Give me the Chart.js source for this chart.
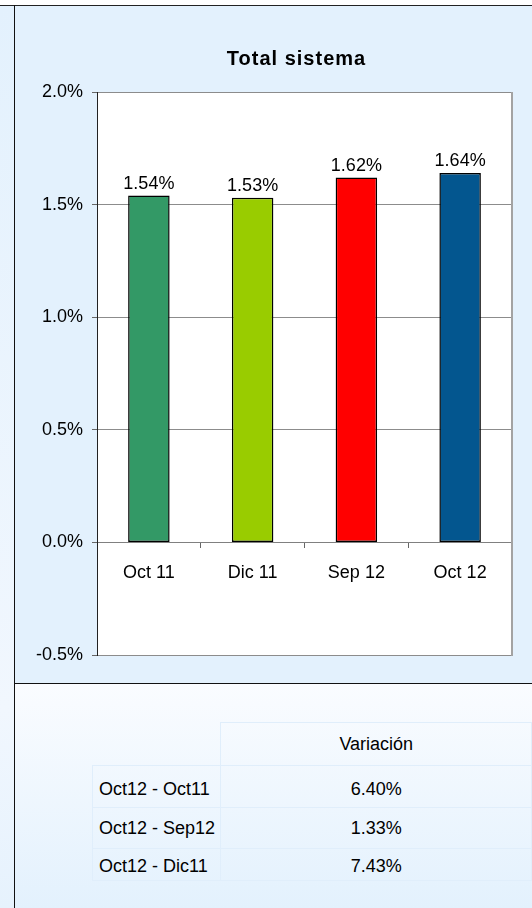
<!DOCTYPE html>
<html>
<head>
<meta charset="utf-8">
<script src="https://cdn.jsdelivr.net/npm/chart.js@4.4.0/dist/chart.umd.min.js"></script>
<style>
  body { margin: 0; width: 532px; height: 908px; background: #fff; position: relative; overflow: hidden;
         font-family: "Liberation Sans", Arial, sans-serif; }
  #side { position: absolute; left: 0; top: 6px; width: 14px; height: 902px;
          background: linear-gradient(#e3f1fd, #f1f7fe 78%, #e6f2fd); }
  #topline { position: absolute; left: 0; top: 5px; width: 532px; height: 1px; background: #222; }
  #vline { position: absolute; left: 14px; top: 5px; width: 1px; height: 903px; background: #111; }
  #panel { position: absolute; left: 15px; top: 6px; width: 517px; height: 677px; background: #e3f1fd; }
  #hline { position: absolute; left: 14px; top: 683px; width: 518px; height: 1px; background: #111; }
  #lower { position: absolute; left: 15px; top: 684px; width: 517px; height: 224px;
           background: linear-gradient(#fafcff, #e3f1fd); }
  #chart { position: absolute; left: 0; top: 0; }
  #vartable { position: absolute; left: 77px; top: 38px; border-collapse: collapse; font-size: 18px; color: #000; }
  #vartable td { border: 1px solid #e0eefb; padding: 0; }
  #vartable td.blank { border: none; }
  #vartable td.lbl { width: 124px; padding-left: 6px; text-align: left; }
  #vartable td.val { width: 318px; text-align: center; }
  #vartable tr.first td { padding-top: 6px; }
  #vartable tr.last td { padding-top: 4px; }
</style>
</head>
<body>
<div id="side"></div>
<div id="panel"><canvas id="chart" width="517" height="677"></canvas></div>
<div id="lower"><table id="vartable"></table></div>
<div id="topline"></div>
<div id="vline"></div>
<div id="hline"></div>
<script>
// Ratio per period, in percent
const categories = ['Oct 11', 'Dic 11', 'Sep 12', 'Oct 12'];
const ratios = [1.54, 1.53, 1.62, 1.64];
const barColors = ['#339966', '#99cc00', '#ff0000', '#03568f'];
const yTicks = [-0.5, 0, 0.5, 1.0, 1.5, 2.0];

// Variation table
const periods = ['Oct12 - Oct11', 'Oct12 - Sep12', 'Oct12 - Dic11'];
const variations = [6.40, 1.33, 7.43];
const rowHeights = [43, 42, 41, 32];

const FONT = '"Liberation Sans", Arial, sans-serif';

// build the table below the chart
const table = document.getElementById('vartable');
let html = '<tr style="height:' + rowHeights[0] + 'px"><td class="blank"></td><td class="val">Variación</td></tr>';
periods.forEach((p, i) => {
  const cls = i === 0 ? 'first' : (i === periods.length - 1 ? 'last' : '');
  html += '<tr class="' + cls + '" style="height:' + rowHeights[i + 1] + 'px"><td class="lbl">' + p + '</td>' +
          '<td class="val">' + variations[i].toFixed(2) + '%</td></tr>';
});
table.innerHTML = html;

// white plot background + grey right edge
const plotFrame = {
  id: 'plotFrame',
  beforeDraw(chart) {
    const { ctx, chartArea: a } = chart;
    ctx.save();
    ctx.fillStyle = '#fff';
    ctx.fillRect(a.left, a.top, a.right - a.left, a.bottom - a.top);
    ctx.restore();
  },
  afterDraw(chart) {
    const { ctx, chartArea: a } = chart;
    ctx.save();
    ctx.strokeStyle = '#a3a3a3';
    ctx.lineWidth = 2;
    ctx.beginPath();
    ctx.moveTo(a.right, a.top);
    ctx.lineTo(a.right, a.bottom + 1);
    ctx.stroke();
    ctx.restore();
  }
};

// title and value labels above the bars
const textLayer = {
  id: 'textLayer',
  afterDatasetsDraw(chart) {
    const { ctx, chartArea: a } = chart;
    ctx.save();
    ctx.fillStyle = '#000';
    ctx.textAlign = 'center';
    ctx.font = 'bold 20px ' + FONT;
    ctx.letterSpacing = '1px';
    ctx.textBaseline = 'middle';
    ctx.fillText('Total sistema', (a.left + a.right) / 2 - 8, 53);
    ctx.letterSpacing = '0px';
    ctx.font = '18px ' + FONT;
    ctx.textBaseline = 'alphabetic';
    chart.getDatasetMeta(0).data.forEach((bar, i) => {
      ctx.fillText(ratios[i].toFixed(2) + '%', bar.x, bar.y - 7);
    });
    ctx.restore();
  }
};

new Chart(document.getElementById('chart'), {
  type: 'bar',
  data: {
    labels: categories,
    datasets: [{
      data: ratios,
      backgroundColor: barColors,
      borderColor: '#000',
      borderWidth: 1.5,
      borderSkipped: false,
      categoryPercentage: 1,
      barPercentage: 0.4
    }]
  },
  options: {
    responsive: false,
    animation: false,
    layout: { padding: { top: 86, right: 20, bottom: 28, left: 0 } },
    plugins: { legend: { display: false }, tooltip: { enabled: false } },
    scales: {
      x: {
        position: { y: 0 },
        grid: { drawOnChartArea: false, tickLength: 5, color: '#666' },
        border: { color: '#808080' },
        ticks: { color: '#000', font: { family: FONT, size: 18 }, padding: 15 }
      },
      y: {
        min: yTicks[0],
        max: yTicks[yTicks.length - 1],
        afterBuildTicks(scale) { scale.ticks = yTicks.map(v => ({ value: v })); },
        afterFit(scale) { scale.width = 82; },
        grid: { color: '#8c8c8c', tickLength: 5, tickColor: '#666' },
        border: { color: '#222' },
        ticks: {
          color: '#000',
          font: { family: FONT, size: 18 },
          padding: 9,
          callback: v => v.toFixed(1) + '%'
        }
      }
    }
  },
  plugins: [plotFrame, textLayer]
});
</script>
</body>
</html>
